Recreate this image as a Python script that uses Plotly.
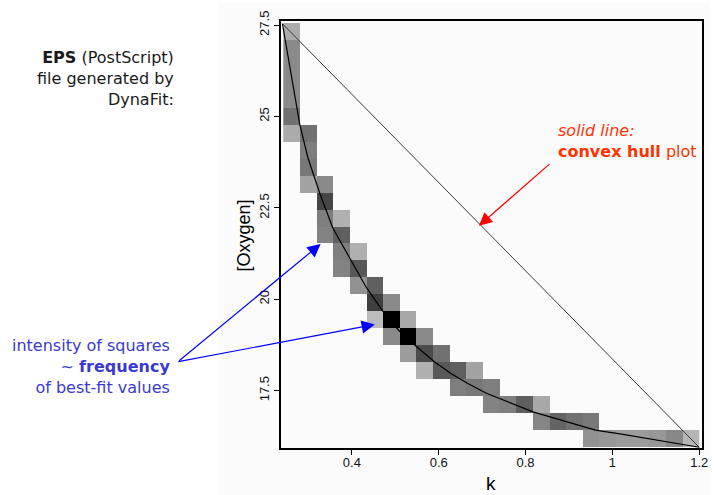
import plotly.graph_objects as go

# ---------------- data ----------------
# 25 x 25 grid of best-fit (k, [Oxygen]) bins
k_lo, k_hi = 0.242, 1.2
o_lo, o_hi = 15.95, 27.56
n_bins = 25

# occupied cells: column index (from left), row index (from top), relative frequency
cell_col = [0, 0, 0, 0, 0, 0, 0,
            1, 1, 1, 1,
            2, 2, 2, 2,
            3, 3, 3, 3,
            4, 4, 4,
            5, 5, 5,
            6, 6, 6,
            7, 7, 7,
            8, 8, 8,
            9, 9,
            10, 10,
            11, 11,
            12, 12,
            13,
            14,
            15, 15,
            16,
            17,
            18, 18,
            19, 20, 21, 22, 23, 24]
cell_row = [0, 1, 2, 3, 4, 5, 6,
            6, 7, 8, 9,
            9, 10, 11, 12,
            11, 12, 13, 14,
            13, 14, 15,
            15, 16, 17,
            16, 17, 18,
            17, 18, 19,
            18, 19, 20,
            19, 20,
            20, 21,
            20, 21,
            21, 22,
            22,
            22,
            22, 23,
            23,
            23,
            23, 24,
            24, 24, 24, 24, 24, 24]
cell_val = [0.32, 0.45, 0.45, 0.45, 0.45, 0.55, 0.32,
            0.55, 0.50, 0.52, 0.35,
            0.45, 0.72, 0.50, 0.48,
            0.30, 0.62, 0.50, 0.48,
            0.30, 0.65, 0.42,
            0.62, 0.75, 0.25,
            0.45, 1.00, 0.45,
            0.33, 1.00, 0.38,
            0.45, 0.70, 0.30,
            0.55, 0.65,
            0.62, 0.50,
            0.35, 0.52,
            0.50, 0.48,
            0.50,
            0.62,
            0.33, 0.47,
            0.60,
            0.55,
            0.52, 0.42,
            0.40, 0.38, 0.38, 0.40, 0.46, 0.28]

# best-fit curve
curve_k = [0.240, 0.280, 0.299, 0.326, 0.356, 0.398, 0.432, 0.469, 0.507,
           0.549, 0.575, 0.590, 0.628, 0.666, 0.711, 0.817, 0.961, 1.021, 1.200]
curve_o = [27.54, 24.78, 23.86, 22.90, 21.95, 21.08, 20.35, 19.71, 19.16,
           18.70, 18.43, 18.29, 17.97, 17.70, 17.42, 16.92, 16.42, 16.31, 15.95]

# convex hull (straight line)
hull_k = [0.240, 1.200]
hull_o = [27.54, 15.95]

x_ticks = [0.4, 0.6, 0.8, 1.0, 1.2]
x_ticktext = ["0.4", "0.6", "0.8", "1", "1.2"]
y_ticks = [17.5, 20, 22.5, 25, 27.5]
y_ticktext = ["17.5", "20", "22.5", "25", "27.5"]

# ---------------- build grid ----------------
k_edges = [k_lo + (k_hi - k_lo) * i / n_bins for i in range(n_bins + 1)]
o_edges = [o_lo + (o_hi - o_lo) * i / n_bins for i in range(n_bins + 1)]
z = [[None] * n_bins for _ in range(n_bins)]
for c, r, v in zip(cell_col, cell_row, cell_val):
    z[n_bins - 1 - r][c] = v

# ---------------- figure ----------------
W, H = 715, 495
L, R, T, B = 281, 7, 21, 47
PW, PH = W - L - R, H - T - B


def px(x):
    return (x - L) / PW


def py(y):
    return (H - B - y) / PH


fig = go.Figure()
fig.add_trace(go.Heatmap(
    x=k_edges, y=o_edges, z=z,
    colorscale=[[0, "#fbfbfb"], [1, "#000000"]],
    zmin=0, zmax=1, showscale=False, hoverongaps=False,
))
fig.add_trace(go.Scatter(x=hull_k, y=hull_o, mode="lines",
                         line=dict(color="#3a3a3a", width=1)))
fig.add_trace(go.Scatter(x=curve_k, y=curve_o, mode="lines",
                         line=dict(color="#000000", width=1.2)))

font_ax = "Liberation Sans, Arial, sans-serif"
font_txt = "DejaVu Sans, Verdana, sans-serif"

fig.update_layout(
    width=W, height=H,
    margin=dict(l=L, r=R, t=T, b=B, pad=0),
    paper_bgcolor="white",
    plot_bgcolor="#fbfbfb",
    showlegend=False,
    xaxis=dict(range=[0.2367, 1.2064], tickvals=x_ticks, ticktext=x_ticktext,
               showgrid=False, zeroline=False, showline=True, mirror=True,
               linecolor="black", linewidth=1.5, ticks="outside", ticklen=5,
               tickcolor="black", tickwidth=1, ticklabelstandoff=-3,
               tickfont=dict(family=font_ax, size=13, color="#111111")),
    yaxis=dict(range=[15.93, 27.615], tickvals=y_ticks, ticktext=y_ticktext,
               showgrid=False, zeroline=False, showline=True, mirror=True,
               linecolor="black", linewidth=1.5, ticks="outside", ticklen=5,
               tickcolor="black", tickwidth=1, tickangle=-90,
               tickfont=dict(family=font_ax, size=13, color="#111111")),
    shapes=[dict(type="rect", xref="paper", yref="paper",
                 x0=px(218), x1=px(716), y0=py(496), y1=py(3),
                 fillcolor="#fbfbfb", line=dict(width=0), layer="below")],
)

ann = []
# axis titles
ann.append(dict(text="[Oxygen]", x=px(243), y=py(236), xref="paper", yref="paper",
                showarrow=False, textangle=-90, xanchor="center", yanchor="middle",
                font=dict(family=font_ax, size=18, color="black")))
ann.append(dict(text="k", x=px(494), y=py(483), xref="paper", yref="paper",
                showarrow=False, xanchor="center", yanchor="middle",
                font=dict(family=font_ax, size=19, color="black")))
# text blocks
ann.append(dict(text="<b>EPS</b> (PostScript)<br>file generated by<br>DynaFit:",
                x=px(174), y=py(78), xref="paper", yref="paper", showarrow=False,
                xanchor="right", yanchor="middle", align="right",
                font=dict(family=font_txt, size=16, color="#1a1a1a")))
ann.append(dict(text="intensity of squares<br>~ <b>frequency</b><br>of best-fit values",
                x=px(170), y=py(366), xref="paper", yref="paper", showarrow=False,
                xanchor="right", yanchor="middle", align="right",
                font=dict(family=font_txt, size=16, color="#3a3ad0")))
ann.append(dict(text="<i>solid line:</i><br><b>convex hull</b> plot",
                x=px(560), y=py(140.5), xref="paper", yref="paper", showarrow=False,
                xanchor="left", yanchor="middle", align="left",
                font=dict(family=font_txt, size=16, color="#ff3300")))
# arrows
ann.append(dict(text="", x=0.328, y=21.515, xref="x", yref="y", showarrow=True,
                ax=-143, ay=118, axref="pixel", ayref="pixel",
                arrowhead=2, arrowsize=2.2, arrowwidth=1.2, arrowcolor="#0000ff",
                standoff=0))
ann.append(dict(text="", x=0.4528, y=19.31, xref="x", yref="y", showarrow=True,
                ax=-198, ay=37.5, axref="pixel", ayref="pixel",
                arrowhead=2, arrowsize=2.2, arrowwidth=1.2, arrowcolor="#0000ff",
                standoff=0))
ann.append(dict(text="", x=0.6925, y=22.01, xref="x", yref="y", showarrow=True,
                ax=72, ay=-63, axref="pixel", ayref="pixel",
                arrowhead=2, arrowsize=2.2, arrowwidth=1.2, arrowcolor="#ff0000",
                standoff=0))
fig.update_layout(annotations=ann)

fig.write_html("out.html")
